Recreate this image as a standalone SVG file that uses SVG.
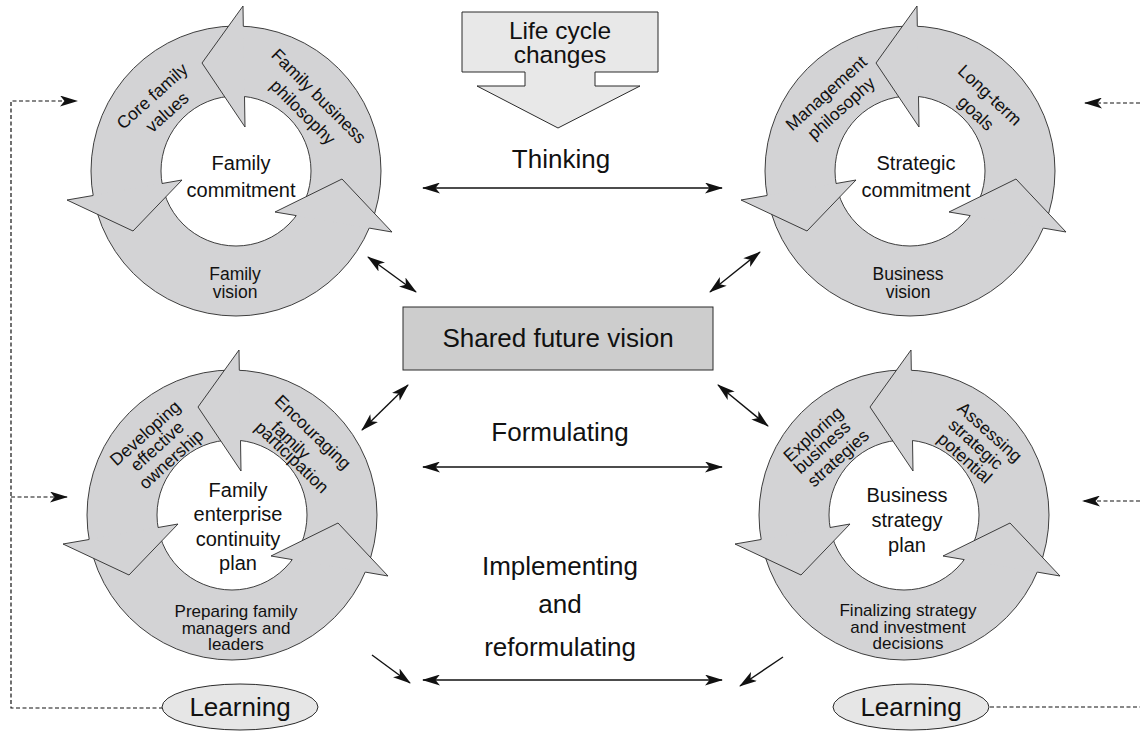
<svg xmlns="http://www.w3.org/2000/svg" width="1140" height="731" viewBox="0 0 1140 731">
<style>
.ringfill{fill:#d3d3d5;stroke:#2a2a2a;stroke-width:0.9;fill-rule:evenodd}
.hf{fill:#d3d3d5;stroke:none}
.hs{fill:none;stroke:#2a2a2a;stroke-width:0.9;stroke-linejoin:miter}
text{font-family:"Liberation Sans",Arial,Helvetica,sans-serif;fill:#111;text-anchor:middle}
.rl{font-size:17.5px}
.rb{font-size:17px}
.cl{font-size:20px}
.bl{font-size:26px}
.lc{font-size:24.5px}
.conn{fill:none;stroke:#111;stroke-width:1.4}
.dash{fill:none;stroke:#111;stroke-width:1.2;stroke-dasharray:4 2.5}
</style>
<defs>
<marker id="ah" viewBox="0 0 18 11" refX="17" refY="5.5" markerWidth="18" markerHeight="11" markerUnits="userSpaceOnUse" orient="auto-start-reverse">
<path d="M0,0 L18,5.5 L0,11 L4.5,5.5 Z" fill="#111"/>
</marker>
<g id="ring">
<path class="ringfill" d="M91,171 A145,145 0 1,0 381,171 A145,145 0 1,0 91,171 Z M161,171 A75,75 0 1,0 311,171 A75,75 0 1,0 161,171 Z"/>
<polygon class="hf" points="243,6 202,63 245,127"/>
<polyline class="hs" points="243,6 202,63 245,127"/>
<path class="hs" d="M243,6 L243.3,26.2 M245,127 L244.5,96.5"/>
<polygon class="hf" points="67,200 133,231 182,180"/>
<polyline class="hs" points="67,200 133,231 182,180"/>
<path class="hs" d="M67,200 L93.1,195.5 M182,180 L162,183.5"/>
<polygon class="hf" points="392,232 342,179 275,212"/>
<polyline class="hs" points="392,232 342,179 275,212"/>
<path class="hs" d="M392,232 L369.3,228.1 M275,212 L296.3,215.6"/>
</g>
</defs>

<g id="connectors">
<path class="conn" d="M423,188 H722" marker-start="url(#ah)" marker-end="url(#ah)"/>
<path class="conn" d="M423,467 H722" marker-start="url(#ah)" marker-end="url(#ah)"/>
<path class="conn" d="M423,680 H722" marker-start="url(#ah)" marker-end="url(#ah)"/>
<path class="conn" d="M416,292 L368,257" marker-start="url(#ah)" marker-end="url(#ah)"/>
<path class="conn" d="M710,292 L760,252" marker-start="url(#ah)" marker-end="url(#ah)"/>
<path class="conn" d="M408,385 L362,430" marker-start="url(#ah)" marker-end="url(#ah)"/>
<path class="conn" d="M718,385 L768,426" marker-start="url(#ah)" marker-end="url(#ah)"/>
<path class="conn" d="M372,655 L410,683" marker-end="url(#ah)"/>
<path class="conn" d="M783,657 L740,686" marker-end="url(#ah)"/>
<path class="dash" d="M163,708 H11 V101 H77" marker-end="url(#ah)"/>
<path class="dash" d="M11,497 H67" marker-end="url(#ah)"/>
<path class="dash" d="M990,707 H1140"/>
<path class="dash" d="M1140,103 H1085" marker-end="url(#ah)"/>
<path class="dash" d="M1140,501 H1083" marker-end="url(#ah)"/>
</g>

<g id="life-cycle-changes">
<polygon points="462,12 658,12 658,72 595,72 595,86 640,86 558,128 477,86 525,86 525,72 462,72" fill="#e8e8e8" stroke="#2a2a2a" stroke-width="1"/>
<text class="lc" x="560" y="39">Life cycle</text>
<text class="lc" x="560" y="63">changes</text>
</g>

<g id="family-commitment">
<use href="#ring"/>
<text class="cl" x="241" y="170">Family</text>
<text class="cl" x="241" y="197">commitment</text>
<text class="rl" transform="translate(152,96) rotate(-42)" dy="0.35em">Core family</text>
<text class="rl" transform="translate(167,112) rotate(-42)" dy="0.35em">values</text>
<text class="rl" transform="translate(319,96) rotate(45)" dy="0.35em">Family business</text>
<text class="rl" transform="translate(303,112) rotate(45)" dy="0.35em">philosophy</text>
<text class="rl" x="235" y="280">Family</text>
<text class="rl" x="235" y="298">vision</text>
</g>

<g id="strategic-commitment">
<use href="#ring" transform="translate(674,0)"/>
<text class="cl" x="916" y="170">Strategic</text>
<text class="cl" x="916" y="197">commitment</text>
<text class="rl" transform="translate(826,93) rotate(-42)" dy="0.35em">Management</text>
<text class="rl" transform="translate(841,108) rotate(-42)" dy="0.35em">philosophy</text>
<text class="rl" transform="translate(990,95) rotate(43)" dy="0.35em">Long-term</text>
<text class="rl" transform="translate(976,113) rotate(43)" dy="0.35em">goals</text>
<text class="rl" x="908" y="280">Business</text>
<text class="rl" x="908" y="298">vision</text>
</g>

<g id="family-enterprise-continuity-plan">
<use href="#ring" transform="translate(-4,344)"/>
<text class="cl" x="238" y="497">Family</text>
<text class="cl" x="238" y="521">enterprise</text>
<text class="cl" x="238" y="546">continuity</text>
<text class="cl" x="238" y="570">plan</text>
<text class="rl" transform="translate(145,433) rotate(-42)" dy="0.35em">Developing</text>
<text class="rl" transform="translate(157,446) rotate(-42)" dy="0.35em">effective</text>
<text class="rl" transform="translate(171,459) rotate(-42)" dy="0.35em">ownership</text>
<text class="rl" transform="translate(313,432) rotate(44)" dy="0.35em">Encouraging</text>
<text class="rl" transform="translate(291,440) rotate(44)" dy="0.35em">family</text>
<text class="rl" transform="translate(292,457) rotate(44)" dy="0.35em">participation</text>
<text class="rb" x="236" y="617">Preparing family</text>
<text class="rb" x="236" y="633.5">managers and</text>
<text class="rb" x="236" y="650">leaders</text>
</g>

<g id="business-strategy-plan">
<use href="#ring" transform="translate(668,344)"/>
<text class="cl" x="907" y="502">Business</text>
<text class="cl" x="907" y="527">strategy</text>
<text class="cl" x="907" y="552">plan</text>
<text class="rl" transform="translate(813,434) rotate(-42)" dy="0.35em">Exploring</text>
<text class="rl" transform="translate(822,447) rotate(-42)" dy="0.35em">business</text>
<text class="rl" transform="translate(838,458) rotate(-42)" dy="0.35em">strategies</text>
<text class="rl" transform="translate(990,432) rotate(42)" dy="0.35em">Assessing</text>
<text class="rl" transform="translate(976,444) rotate(42)" dy="0.35em">strategic</text>
<text class="rl" transform="translate(965,458) rotate(42)" dy="0.35em">potential</text>
<text class="rb" x="908" y="616">Finalizing strategy</text>
<text class="rb" x="908" y="632.5">and investment</text>
<text class="rb" x="908" y="649">decisions</text>
</g>

<g id="shared-future-vision">
<rect x="403" y="307" width="310" height="63" fill="#cdcdcd" stroke="#2a2a2a" stroke-width="1"/>
<text class="bl" x="558" y="347">Shared future vision</text>
</g>

<g id="thinking"><text class="bl" x="561" y="168">Thinking</text></g>
<g id="formulating"><text class="bl" x="560" y="441">Formulating</text></g>
<g id="implementing">
<text class="bl" x="560" y="575">Implementing</text>
<text class="bl" x="560" y="613">and</text>
<text class="bl" x="560" y="656">reformulating</text>
</g>

<g id="learning-left">
<ellipse cx="240" cy="707" rx="78" ry="23" fill="#e6e6e6" stroke="#2a2a2a" stroke-width="1"/>
<text class="bl" x="240" y="716">Learning</text>
</g>
<g id="learning-right">
<ellipse cx="911" cy="707" rx="78" ry="23" fill="#e6e6e6" stroke="#2a2a2a" stroke-width="1"/>
<text class="bl" x="911" y="716">Learning</text>
</g>
</svg>
